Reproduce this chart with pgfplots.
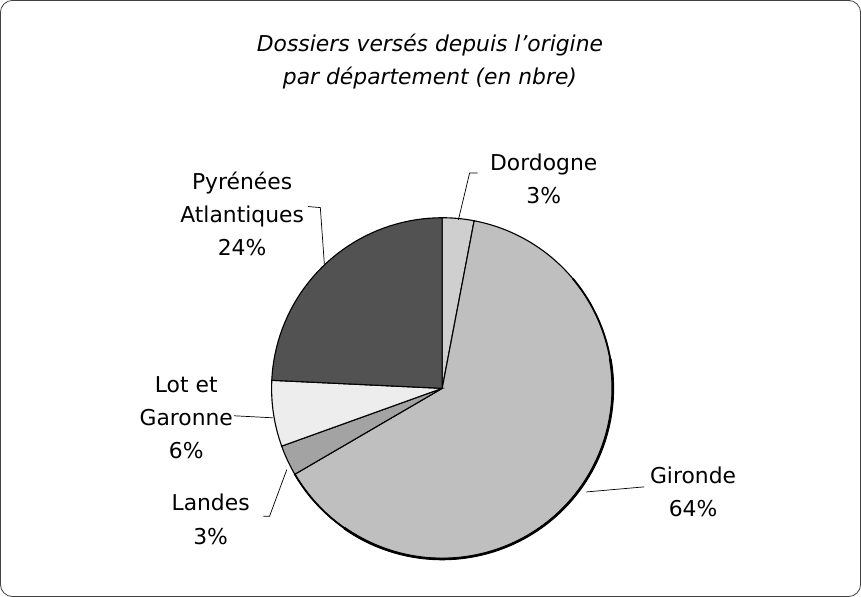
\documentclass[border=0pt]{standalone}
\usepackage{pgfplots}
\pgfplotsset{compat=1.18}
\usepackage{fontspec}
\setmainfont{DejaVu Sans}
% shares (per cent), clockwise from the top
\def\vDor{3.0}
\def\vGir{63.6}
\def\vLan{2.9}
\def\vLot{6.25}
\def\vPyr{24.25}
\def\cx{443}
\def\cy{213}
\def\R{168}
\tikzset{lab/.style={font=\fontsize{21.5}{32.5}\selectfont, align=center, inner sep=0pt}}
\begin{document}
\begin{tikzpicture}
\pgfmathsetmacro{\aA}{90}
\pgfmathsetmacro{\aB}{\aA-3.6*\vDor}
\pgfmathsetmacro{\aC}{\aB-3.6*\vGir}
\pgfmathsetmacro{\aD}{\aC-3.6*\vLan}
\pgfmathsetmacro{\aE}{\aD-3.6*\vLot}
\pgfmathsetmacro{\aF}{\aE-3.6*\vPyr}
\begin{axis}[
  x=1pt, y=1pt, scale only axis,
  xmin=0, xmax=861, ymin=0, ymax=603,
  hide axis, clip=false,
]
% frame
\addplot[draw=black!75, line width=0.8pt, rounded corners=12pt] coordinates {(8,8) (855,8) (855,595) (8,595)} -- cycle;
% slices
\addplot[fill=black!19, draw=black, line width=1.1pt, domain=\aB:\aA, samples=10] ({\cx+\R*cos(x)},{\cy+\R*sin(x)}) -- (axis cs:\cx,\cy) -- cycle;
\addplot[fill=black!25, draw=black, line width=1.1pt, domain=\aC:\aB, samples=120] ({\cx+\R*cos(x)},{\cy+\R*sin(x)}) -- (axis cs:\cx,\cy) -- cycle;
\addplot[fill=black!36, draw=black, line width=1.1pt, domain=\aD:\aC, samples=10] ({\cx+\R*cos(x)},{\cy+\R*sin(x)}) -- (axis cs:\cx,\cy) -- cycle;
\addplot[fill=black!7, draw=black, line width=1.1pt, domain=\aE:\aD, samples=10] ({\cx+\R*cos(x)},{\cy+\R*sin(x)}) -- (axis cs:\cx,\cy) -- cycle;
\addplot[fill=black!68, draw=black, line width=1.1pt, domain=\aF:\aE, samples=40] ({\cx+\R*cos(x)},{\cy+\R*sin(x)}) -- (axis cs:\cx,\cy) -- cycle;
% heavier outer rim on the lower right
\addplot[draw=black, line width=1.8pt, domain=-150:40, samples=80] ({\cx+\R*cos(x)},{\cy+\R*sin(x)});
\addplot[draw=black, line width=2.6pt, domain=-125:10, samples=80] ({\cx+\R*cos(x)},{\cy+\R*sin(x)});
% leader lines
\addplot[black, line width=0.7pt] coordinates {(311,392) (323,391) (327,335)};
\addplot[black, line width=0.7pt] coordinates {(478,425) (470,425) (459,379)};
\addplot[black, line width=0.7pt] coordinates {(238,186) (276,184)};
\addplot[black, line width=0.7pt] coordinates {(267,87) (273,87) (290,133)};
\addplot[black, line width=0.7pt] coordinates {(642,116) (585,111)};
% labels
\node[lab] at (axis cs:431,535) {\itshape Dossiers versés depuis l'origine\\\itshape par département (en nbre)};
\node[lab] at (axis cs:246,385) {Pyrénées\\Atlantiques\\24\%};
\node[lab] at (axis cs:543,419) {Dordogne\\3\%};
\node[lab] at (axis cs:191,184) {Lot et\\Garonne\\6\%};
\node[lab] at (axis cs:215,84) {Landes\\3\%};
\node[lab] at (axis cs:690,111) {Gironde\\64\%};
\end{axis}
\end{tikzpicture}
\end{document}
